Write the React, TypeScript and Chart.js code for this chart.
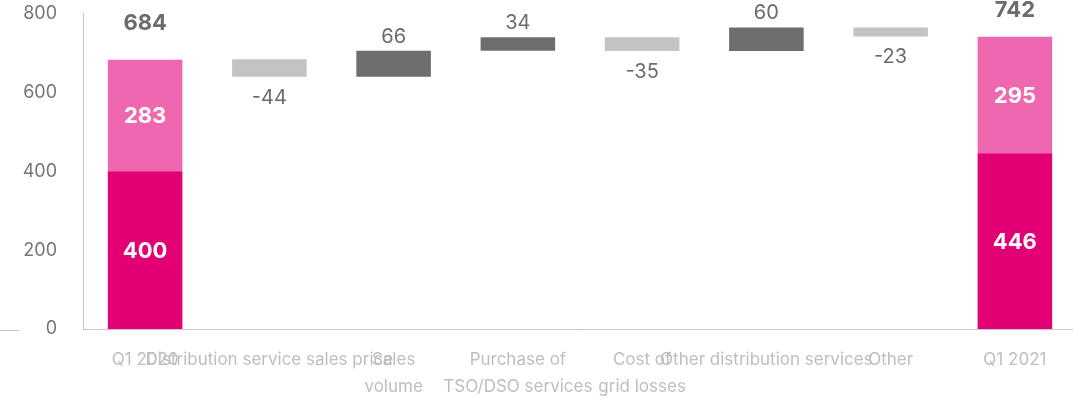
import React, { useEffect, useRef } from "react";
import { Chart, registerables } from "chart.js";

Chart.register(...registerables);

const categories: (string | string[])[] = [
  "Q1 2020",
  "Distribution service sales price",
  ["Sales", "volume"],
  ["Purchase of", "TSO/DSO services"],
  ["Cost of", "grid losses"],
  "Other distribution services",
  "Other",
  "Q1 2021",
];
const totalBaseValues = [400, 446];
const totalUpperValues = [283, 295];
const totalValues = [684, 742];
const deltaValues = [-44, 66, 34, -35, 60, -23];
const yTicks = [0, 200, 400, 600, 800];

const MAGENTA = "#E20074";
const PINK = "#EF68AF";
const DARK_GREY = "#6E6E6E";
const LIGHT_GREY = "#C3C3C3";
const FONT = "Inter, 'Open Sans', sans-serif";

function buildDatasets() {
  const n = categories.length;
  const last = n - 1;
  const base: any[] = new Array(n).fill(null);
  const upper: any[] = new Array(n).fill(null);
  const delta: any[] = new Array(n).fill(null);
  const baseLabels: any[] = new Array(n).fill(null);
  const upperLabels: any[] = new Array(n).fill(null);
  const deltaLabels: any[] = new Array(n).fill(null);
  const totalLabels: any[] = new Array(n).fill(null);
  [0, last].forEach((idx, k) => {
    base[idx] = [0, totalBaseValues[k]];
    upper[idx] = [totalBaseValues[k], totalBaseValues[k] + totalUpperValues[k]];
    baseLabels[idx] = totalBaseValues[k];
    upperLabels[idx] = totalUpperValues[k];
    totalLabels[idx] = totalValues[k];
  });
  let running = totalValues[0];
  const deltaColors: string[] = new Array(n).fill(DARK_GREY);
  deltaValues.forEach((d, i) => {
    const idx = i + 1;
    delta[idx] = [running, running + d];
    deltaLabels[idx] = d;
    deltaColors[idx] = d >= 0 ? DARK_GREY : LIGHT_GREY;
    running += d;
  });
  return { base, upper, delta, baseLabels, upperLabels, deltaLabels, totalLabels, deltaColors };
}

export default function App() {
  const canvasRef = useRef<HTMLCanvasElement | null>(null);

  useEffect(() => {
    if (!canvasRef.current) return;
    document.body.style.margin = "0";
    document.body.style.overflow = "hidden";
    const d = buildDatasets();

    const labelPlugin = {
      id: "waterfallLabels",
      afterDatasetsDraw(chart: any) {
        const ctx = chart.ctx;
        ctx.save();
        ctx.textAlign = "center";
        ctx.textBaseline = "middle";
        const inside = [d.baseLabels, d.upperLabels];
        inside.forEach((labels, dsIdx) => {
          const meta = chart.getDatasetMeta(dsIdx);
          meta.data.forEach((el: any, i: number) => {
            if (labels[i] == null) return;
            const p = el.getProps(["x", "y", "base"], true);
            ctx.font = `bold 22px ${FONT}`;
            ctx.fillStyle = "#FFFFFF";
            ctx.fillText(String(labels[i]), p.x, (p.y + p.base) / 2 + 1);
          });
        });
        const upMeta = chart.getDatasetMeta(1);
        upMeta.data.forEach((el: any, i: number) => {
          if (d.totalLabels[i] == null) return;
          const p = el.getProps(["x", "y", "base"], true);
          const top = Math.min(p.y, p.base);
          ctx.font = `bold 22px ${FONT}`;
          ctx.fillStyle = "#6B6B6B";
          ctx.fillText(String(d.totalLabels[i]), p.x, Math.max(top - 36, 10));
        });
        const dMeta = chart.getDatasetMeta(2);
        dMeta.data.forEach((el: any, i: number) => {
          const v = d.deltaLabels[i];
          if (v == null) return;
          const p = el.getProps(["x", "y", "base"], true);
          const top = Math.min(p.y, p.base);
          const bottom = Math.max(p.y, p.base);
          ctx.font = `20px ${FONT}`;
          ctx.fillStyle = "#6B6B6B";
          const y = v >= 0 ? top - 14 : bottom + 21;
          ctx.fillText(String(v), p.x, y);
        });
        ctx.restore();
      },
      afterDraw(chart: any) {
        const ctx = chart.ctx;
        const y0 = Math.round(chart.scales.y.getPixelForValue(0)) + 1.5;
        ctx.save();
        ctx.strokeStyle = "#C8C8C8";
        ctx.lineWidth = 1;
        ctx.beginPath();
        ctx.moveTo(0, y0);
        ctx.lineTo(19, y0);
        ctx.stroke();
        ctx.restore();
      },
    };

    const chart = new Chart(canvasRef.current, {
      type: "bar",
      data: {
        labels: categories as any,
        datasets: [
          {
            label: "base",
            data: d.base,
            backgroundColor: MAGENTA,
            grouped: false,
            categoryPercentage: 1,
            barPercentage: 0.6,
          } as any,
          {
            label: "upper",
            data: d.upper,
            backgroundColor: PINK,
            grouped: false,
            categoryPercentage: 1,
            barPercentage: 0.6,
          } as any,
          {
            label: "delta",
            data: d.delta,
            backgroundColor: d.deltaColors,
            grouped: false,
            categoryPercentage: 1,
            barPercentage: 0.6,
          } as any,
        ],
      },
      options: {
        animation: false,
        responsive: true,
        maintainAspectRatio: false,
        layout: { padding: { top: 13.6, left: 0, right: 0, bottom: 0 } },
        plugins: {
          legend: { display: false },
          tooltip: { enabled: false },
        },
        scales: {
          x: {
            grid: { display: false, drawTicks: false },
            border: { display: true, color: "#C8C8C8", width: 1 },
            ticks: {
              color: "#BEBEBE",
              font: { family: FONT, size: 17, lineHeight: 1.6 },
              padding: 17,
              maxRotation: 0,
              minRotation: 0,
              autoSkip: false,
            },
            afterFit(scale: any) {
              scale.height = 69;
              scale.paddingLeft = 0;
              scale.paddingRight = 0;
              scale.paddingTop = 0;
              scale.paddingBottom = 0;
            },
          },
          y: {
            min: 0,
            max: 800,
            grid: { display: false, drawTicks: false },
            border: { display: true, color: "#C4C4C4", width: 1 },
            afterBuildTicks(scale: any) {
              scale.ticks = yTicks.map((v) => ({ value: v }));
            },
            ticks: {
              color: "#767676",
              font: { family: FONT, size: 18 },
              padding: 26,
            },
            afterFit(scale: any) {
              scale.width = 83;
              scale.paddingTop = 0;
              scale.paddingBottom = 0;
              scale.paddingLeft = 0;
              scale.paddingRight = 0;
            },
          },
        },
      },
      plugins: [labelPlugin],
    });

    return () => {
      chart.destroy();
    };
  }, []);

  return (
    <div style={{ position: "fixed", left: 0, top: 0, width: 1077, height: 398 }}>
      <canvas ref={canvasRef} />
    </div>
  );
}
